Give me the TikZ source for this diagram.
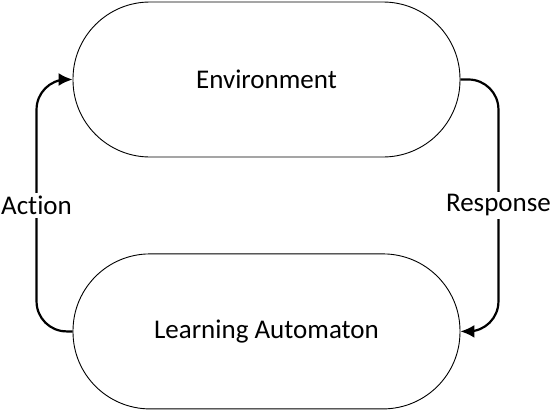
\documentclass[tikz,border=0pt]{standalone}
\usepackage{fontspec}
\setmainfont{Carlito}[Ligatures=NoCommon]
\usepackage{tikz}
\usetikzlibrary{
  arrows.meta,
  positioning,
  calc
}
\tikzset{
  stadium/.style={
    rectangle, draw=black, fill=white, rounded corners=77pt,
    minimum width=387pt, minimum height=155pt,
    font=\fontsize{27}{32}\selectfont, text centered, line width=0.9pt
  },
  arrow/.style={-{Latex[length=14pt, width=13pt]}, line width=2.2pt, rounded corners=30pt},
  looplabel/.style={fill=white, inner sep=3pt, font=\fontsize{27}{32}\selectfont},
}
\begin{document}
\begin{tikzpicture}[
  node distance=96pt,
]

% Boxes (top to bottom)
\node[stadium] (env) {Environment};
\node[stadium, below=of env] (automaton) {Learning Automaton};

% Page frame
\useasboundingbox ($(env.center)+(-266.5pt,79.5pt)$) rectangle ++(560pt,-410pt);

% Turning points of the loop
\coordinate (actturn) at ($(env.west)+(-36pt,0)$);
\coordinate (respturn) at ($(env.east)+(38pt,0)$);

% Arrows
\draw[arrow] (automaton.west) -| (actturn) -- (env.west);
\draw[arrow] (env.east) -| (respturn |- automaton.east) -- (automaton.east);

% Labels on the loop
\node[looplabel] (action) at ($(actturn)!0.5!(actturn |- automaton.west)$) {Action};
\node[looplabel] (response) at ($(respturn)!0.5!(respturn |- automaton.east)$) {Response};

\end{tikzpicture}
\end{document}
